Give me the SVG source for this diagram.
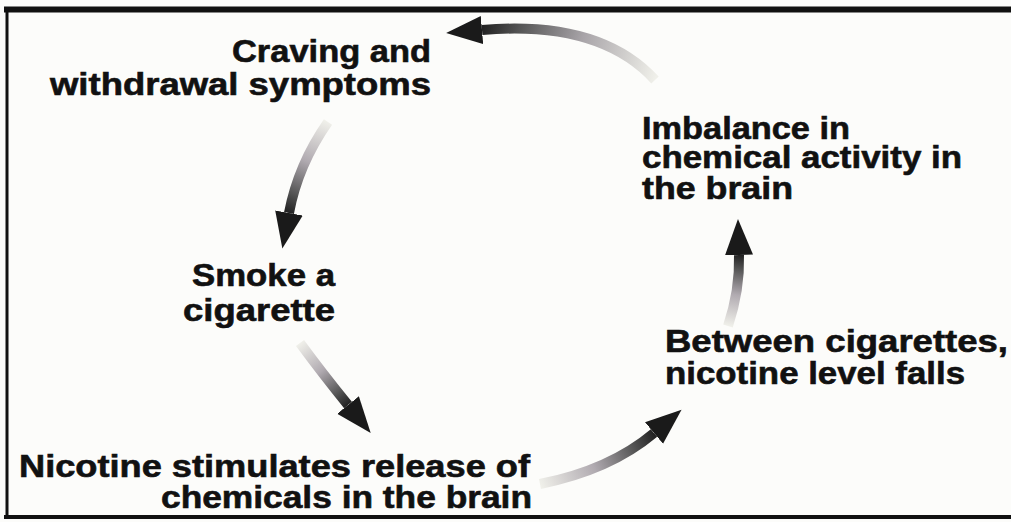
<svg xmlns="http://www.w3.org/2000/svg" width="1011" height="522" viewBox="0 0 1011 522">
  <defs>
    <style>
      .lbl { font-family: "Liberation Sans", Arial, sans-serif; font-weight: bold; font-size: 31px; fill: #111; stroke: #111; stroke-width: 0.6px; }
      .shaft { fill: none; stroke-width: 10; stroke-linecap: butt; }
      .border { stroke: #111; fill: none; }
    </style>
    <marker id="head" markerUnits="userSpaceOnUse" markerWidth="40" markerHeight="32" refX="0" refY="16" orient="auto" viewBox="0 0 40 32">
      <path d="M0,2 L36,16 L0,30 Z" fill="#1a1a1a"/>
    </marker>
    <linearGradient id="g1" gradientUnits="userSpaceOnUse" x1="655" y1="80" x2="482" y2="30">
      <stop offset="0" stop-color="#f0f0ea"/>
      <stop offset="0.45" stop-color="#a8a4a8"/>
      <stop offset="0.8" stop-color="#555"/>
      <stop offset="1" stop-color="#222"/>
    </linearGradient>
    <linearGradient id="g2" gradientUnits="userSpaceOnUse" x1="328" y1="122" x2="289" y2="213">
      <stop offset="0" stop-color="#f0f0ea"/>
      <stop offset="0.45" stop-color="#b0aab0"/>
      <stop offset="0.8" stop-color="#555"/>
      <stop offset="1" stop-color="#222"/>
    </linearGradient>
    <linearGradient id="g3" gradientUnits="userSpaceOnUse" x1="300" y1="343" x2="348" y2="405">
      <stop offset="0" stop-color="#f0f0ea"/>
      <stop offset="0.45" stop-color="#b0aab0"/>
      <stop offset="0.8" stop-color="#555"/>
      <stop offset="1" stop-color="#222"/>
    </linearGradient>
    <linearGradient id="g4" gradientUnits="userSpaceOnUse" x1="540" y1="484" x2="654" y2="433">
      <stop offset="0" stop-color="#f0f0ea"/>
      <stop offset="0.45" stop-color="#b0aab0"/>
      <stop offset="0.8" stop-color="#555"/>
      <stop offset="1" stop-color="#222"/>
    </linearGradient>
    <linearGradient id="g5" gradientUnits="userSpaceOnUse" x1="728" y1="326" x2="739" y2="255">
      <stop offset="0" stop-color="#f0f0ea"/>
      <stop offset="0.45" stop-color="#b0aab0"/>
      <stop offset="0.8" stop-color="#555"/>
      <stop offset="1" stop-color="#222"/>
    </linearGradient>
  </defs>

  <rect x="0" y="0" width="1011" height="522" fill="#fcfcfa"/>

  <g id="frame">
    <line class="border" x1="4" y1="9.5" x2="1011" y2="9.5" stroke-width="6"/>
    <line class="border" x1="7" y1="7" x2="7" y2="519" stroke-width="3"/>
    <line class="border" x1="4" y1="517" x2="1011" y2="517" stroke-width="4"/>
  </g>

  <g id="connectors">
    <path class="shaft" d="M655,80 Q600,20 482,30" stroke="url(#g1)" marker-end="url(#head)"/>
    <path class="shaft" d="M328,122 Q298,165 289,213" stroke="url(#g2)" marker-end="url(#head)"/>
    <path class="shaft" d="M300,343 Q322,373 348,405" stroke="url(#g3)" marker-end="url(#head)"/>
    <path class="shaft" d="M540,484 Q610,470 654,433" stroke="url(#g4)" marker-end="url(#head)"/>
    <path class="shaft" d="M728,326 Q740,290 739,255" stroke="url(#g5)" marker-end="url(#head)"/>
  </g>

  <g id="node-craving">
    <text class="lbl" x="232" y="62" textLength="199" lengthAdjust="spacingAndGlyphs">Craving and</text>
    <text class="lbl" x="50" y="95" textLength="381" lengthAdjust="spacingAndGlyphs">withdrawal symptoms</text>
  </g>

  <g id="node-smoke">
    <text class="lbl" x="192" y="286" textLength="143" lengthAdjust="spacingAndGlyphs">Smoke a</text>
    <text class="lbl" x="183" y="321" textLength="152" lengthAdjust="spacingAndGlyphs">cigarette</text>
  </g>

  <g id="node-nicotine">
    <text class="lbl" x="19" y="477" textLength="511" lengthAdjust="spacingAndGlyphs">Nicotine stimulates release of</text>
    <text class="lbl" x="161" y="508" textLength="371" lengthAdjust="spacingAndGlyphs">chemicals in the brain</text>
  </g>

  <g id="node-between">
    <text class="lbl" x="665" y="352" textLength="343" lengthAdjust="spacingAndGlyphs">Between cigarettes,</text>
    <text class="lbl" x="665" y="384" textLength="300" lengthAdjust="spacingAndGlyphs">nicotine level falls</text>
  </g>

  <g id="node-imbalance">
    <text class="lbl" x="642" y="139" textLength="208" lengthAdjust="spacingAndGlyphs">Imbalance in</text>
    <text class="lbl" x="642" y="168" textLength="320" lengthAdjust="spacingAndGlyphs">chemical activity in</text>
    <text class="lbl" x="642" y="199" textLength="151" lengthAdjust="spacingAndGlyphs">the brain</text>
  </g>
</svg>
